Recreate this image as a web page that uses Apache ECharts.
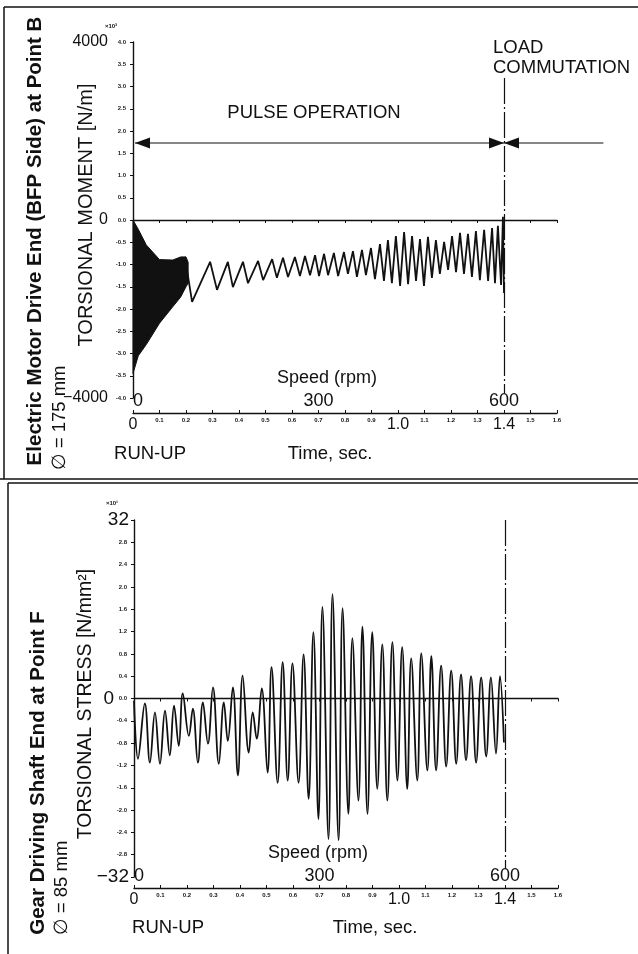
<!DOCTYPE html>
<html>
<head>
<meta charset="utf-8">
<title>Torsional moment and stress during run-up</title>
<script src="https://cdn.jsdelivr.net/npm/echarts@6/dist/echarts.min.js"></script>
<style>
  html, body { margin: 0; padding: 0; background: #fff; }
  #chart { width: 638px; height: 954px; }
</style>
</head>
<body>
<div id="chart"></div>
<script>
// time axis in seconds, speed in rpm (600 rpm reached at 1.4 s)
var timeMax = 1.6;
var commutationTime = 1.4;
var speedMarks = [0, 300, 600];
var bigTimeMarks = [0, 10, 14];            // tenths of a second shown with large figures

// upper panel: torsional moment, x10^3 N.m
var momentTicksBig = [-4, 0, 4];
var bandTime  = [0, 0.02, 0.05, 0.1, 0.15, 0.18, 0.2, 0.208];
var bandUpper = [0, -0.21, -0.56, -0.89, -0.9, -0.83, -0.83, -0.95];
var bandLower = [-3.45, -3.05, -2.8, -2.32, -1.95, -1.73, -1.5, -1.42];

var momentTime = [0.196, 0.223, 0.291, 0.317, 0.358, 0.377, 0.415, 0.434, 0.472, 0.491,
  0.525, 0.543, 0.566, 0.585, 0.611, 0.630, 0.649, 0.668, 0.687, 0.702,
  0.721, 0.736, 0.758, 0.774, 0.796, 0.811, 0.830, 0.845, 0.864, 0.879,
  0.898, 0.913, 0.932, 0.947, 0.962, 0.977, 0.992, 1.008, 1.023, 1.038,
  1.053, 1.068, 1.083, 1.098, 1.113, 1.128, 1.143, 1.158, 1.174, 1.189,
  1.204, 1.219, 1.234, 1.249, 1.264, 1.279, 1.294, 1.309, 1.325, 1.340,
  1.355, 1.366, 1.377, 1.389, 1.396, 1.400];
var momentValue = [-0.83, -1.84, -0.94, -1.57, -0.94, -1.51, -0.94, -1.42, -0.92, -1.35,
  -0.88, -1.30, -0.85, -1.28, -0.83, -1.26, -0.81, -1.24, -0.79, -1.26,
  -0.76, -1.24, -0.74, -1.26, -0.72, -1.21, -0.70, -1.28, -0.67, -1.24,
  -0.63, -1.33, -0.54, -1.37, -0.45, -1.42, -0.36, -1.48, -0.27, -1.44,
  -0.36, -1.37, -0.43, -1.48, -0.38, -1.30, -0.45, -1.21, -0.49, -1.12,
  -0.36, -1.17, -0.29, -1.21, -0.31, -1.28, -0.25, -1.35, -0.22, -1.37,
  -0.18, -1.42, -0.13, -1.46, 0.07, -1.64];
var pulseArrowLevel = 1.73;
var pulseArrowEnd = 1.775;

// lower panel: torsional stress, N/mm2
var stressTime = [0, 0.015, 0.041, 0.060, 0.079, 0.098, 0.117, 0.135, 0.151, 0.169,
  0.184, 0.207, 0.222, 0.241, 0.260, 0.279, 0.298, 0.320, 0.339, 0.354,
  0.373, 0.392, 0.410, 0.433, 0.448, 0.463, 0.482, 0.504, 0.519, 0.542,
  0.561, 0.580, 0.598, 0.621, 0.640, 0.659, 0.677, 0.696, 0.711, 0.734,
  0.749, 0.772, 0.787, 0.809, 0.824, 0.847, 0.862, 0.881, 0.899, 0.918,
  0.937, 0.956, 0.975, 0.994, 1.012, 1.031, 1.046, 1.069, 1.084, 1.107,
  1.122, 1.140, 1.159, 1.178, 1.197, 1.216, 1.234, 1.253, 1.272, 1.291,
  1.310, 1.329, 1.347, 1.366, 1.381, 1.396];
var stressValue = [-0.4, -10.8, -0.9, -11.5, -2.5, -11.7, -2.2, -10.2, -1.3, -8.5,
  0.9, -6.7, -1.8, -11.5, -0.7, -8.1, 2.0, -11.7, -0.7, -7.6,
  2.0, -13.8, 4.1, -9.7, -2.5, -7.2, 1.8, -13.3, 5.6, -15.1,
  6.5, -14.7, 6.3, -15.1, 7.9, -18.0, 11.9, -21.6, 16.4, -25.2,
  18.7, -25.4, 16.2, -20.7, 10.8, -18.3, 12.9, -20.7, 11.9, -16.2,
  9.7, -18.3, 10.1, -14.7, 9.2, -16.2, 7.2, -14.7, 8.1, -12.9,
  7.6, -12.9, 5.9, -12.2, 5.0, -11.7, 4.3, -11.1, 4.0, -11.5,
  3.8, -10.4, 3.8, -9.9, 4.0, -7.9];

var FONT = '"Liberation Sans", Arial, Helvetica, sans-serif';
var INK = '#111';

function zip(xs, ys) {
    return xs.map(function (x, i) { return [x, ys[i]]; });
}

function minus(v) {
    return (v < 0 ? '\u2212' : '') + Math.abs(v);
}

function timeLabel(v) {
    var k = Math.round(v * 10);
    if (k === 0) return '{b|0}';
    if (bigTimeMarks.indexOf(k) >= 0) return '{b|' + (k / 10).toFixed(1) + '}';
    return '{s|' + (k / 10).toFixed(1) + '}';
}

function xAxesFor(grid, offset) {
    return [
        { // zero line with its tick marks
            gridIndex: grid, type: 'value', min: 0, max: timeMax, interval: 0.1, position: 'bottom',
            axisLine: { onZero: true, lineStyle: { color: INK, width: 1.4 } },
            axisTick: { length: 3, lineStyle: { color: INK } },
            axisLabel: { show: false }, splitLine: { show: false }
        },
        { // time axis
            gridIndex: grid, type: 'value', min: 0, max: timeMax, interval: 0.1, position: 'bottom', offset: offset,
            axisLine: { onZero: false, lineStyle: { color: INK, width: 1.4 } },
            axisTick: { inside: true, length: 3, lineStyle: { color: INK } },
            splitLine: { show: false },
            axisLabel: {
                formatter: timeLabel, margin: 4,
                rich: {
                    b: { fontFamily: FONT, fontSize: 16, color: INK },
                    s: { fontFamily: FONT, fontSize: 6, fontWeight: 'bold', color: INK }
                }
            }
        },
        { // speed marks, linear with time
            gridIndex: grid, type: 'value', min: 0, max: 600 / commutationTime * timeMax, position: 'bottom', offset: offset,
            axisLine: { show: false, onZero: false }, axisTick: { show: false }, splitLine: { show: false },
            axisLabel: {
                inside: true, customValues: speedMarks, margin: 3, alignMinLabel: 'left',
                fontFamily: FONT, fontSize: 18, color: INK
            }
        }
    ];
}

function smallYAxis(grid, min, max, interval, fmt) {
    return {
        gridIndex: grid, type: 'value', min: min, max: max, interval: interval, position: 'left',
        axisLine: { show: true, onZero: false, lineStyle: { color: INK, width: 1.4 } },
        axisTick: { length: 3, lineStyle: { color: INK } },
        splitLine: { show: false },
        axisLabel: { formatter: fmt, margin: 7, fontFamily: FONT, fontSize: 6, fontWeight: 'bold', color: '#222' }
    };
}

function bigYAxis(grid, min, max, values, fmt, margin, size) {
    return {
        gridIndex: grid, type: 'value', min: min, max: max, position: 'left',
        axisLine: { show: false, onZero: false }, axisTick: { show: false }, splitLine: { show: false },
        axisLabel: { customValues: values, formatter: fmt, margin: margin, fontFamily: FONT, fontSize: size, color: INK }
    };
}

var chart = echarts.init(document.getElementById('chart'));

var option = {
    animation: false,
    backgroundColor: '#fff',
    grid: [
        { left: 133, top: 42, width: 424, height: 356 },
        { left: 134, top: 520, width: 424, height: 357 }
    ],
    xAxis: xAxesFor(0, 15).concat(xAxesFor(1, 11)),
    yAxis: [
        smallYAxis(0, -4, 4, 0.5, function (v) { return v.toFixed(1); }),
        bigYAxis(0, -4, 4, momentTicksBig, function (v) { return minus(v * 1000); }, 25, 16),
        smallYAxis(1, -32, 32, 4, function (v) { return Math.abs(v) === 32 ? '' : (v / 10).toFixed(1); }),
        bigYAxis(1, -32, 32, [-32, 32], minus, 5, 19),
        bigYAxis(1, -32, 32, [0], minus, 20, 19)
    ],
    series: [
        {
            type: 'custom', xAxisIndex: 0, yAxisIndex: 0, silent: true,
            data: [0],
            renderItem: function (params, api) {
                var pts = [];
                bandTime.forEach(function (t, i) { pts.push(api.coord([t, bandUpper[i]])); });
                for (var i = bandTime.length - 1; i >= 0; i--) pts.push(api.coord([bandTime[i], bandLower[i]]));
                return { type: 'polygon', shape: { points: pts }, style: { fill: INK, stroke: INK, lineWidth: 1 } };
            }
        },
        {
            type: 'line', xAxisIndex: 0, yAxisIndex: 0, silent: true,
            data: zip(momentTime, momentValue),
            showSymbol: false,
            lineStyle: { color: INK, width: 1.8 },
            markLine: {
                silent: true, symbol: 'none', label: { show: false },
                lineStyle: { color: INK, width: 1.2, type: [26, 3, 2, 3] },
                data: [[{ coord: [commutationTime, 3.19] }, { coord: [commutationTime, -3.9] }]]
            }
        },
        {
            type: 'line', xAxisIndex: 3, yAxisIndex: 2, silent: true,
            data: zip(stressTime, stressValue),
            showSymbol: false, smooth: 0.4,
            lineStyle: { color: INK, width: 1.8 },
            markLine: {
                silent: true, symbol: 'none', label: { show: false },
                lineStyle: { color: INK, width: 1.2, type: [26, 3, 2, 3] },
                data: [[{ coord: [commutationTime, 32] }, { coord: [commutationTime, -30.5] }]]
            }
        }
    ]
};
chart.setOption(option);

// annotations and panel frames
function text(x, y, str, opts) {
    opts = opts || {};
    return {
        type: 'text', x: x, y: y, rotation: opts.rot || 0, silent: true,
        style: {
            text: str, fill: INK, font: (opts.weight || 'normal') + ' ' + (opts.size || 18) + 'px ' + FONT,
            textAlign: opts.align || 'center', textVerticalAlign: 'middle'
        }
    };
}
function seg(x1, y1, x2, y2, w) {
    return { type: 'line', silent: true, shape: { x1: x1, y1: y1, x2: x2, y2: y2 }, style: { stroke: INK, lineWidth: w || 1.2 } };
}
function head(tipX, y, dir) {
    return {
        type: 'polygon', silent: true,
        shape: { points: [[tipX, y], [tipX + dir * 15, y - 5.5], [tipX + dir * 15, y + 5.5]] },
        style: { fill: INK }
    };
}

var pL = chart.convertToPixel({ gridIndex: 0 }, [0, pulseArrowLevel]);
var pM = chart.convertToPixel({ gridIndex: 0 }, [commutationTime, pulseArrowLevel]);
var pR = chart.convertToPixel({ gridIndex: 0 }, [pulseArrowEnd, pulseArrowLevel]);
var R = Math.PI / 2;

chart.setOption({
    graphic: [
        seg(4, 7, 638, 7, 1.5), seg(4, 7, 4, 479, 1.5), seg(0, 479, 638, 479, 1.5),
        seg(8, 483, 638, 483, 1.5), seg(8, 483, 8, 954, 1.5),

        seg(pL[0] + 2, pL[1], pR[0], pR[1], 1.1),
        head(pL[0] + 2, pL[1], 1), head(pM[0], pM[1], -1), head(pM[0], pM[1], 1),
        text(314, 113, 'PULSE OPERATION', { size: 18.5 }),
        text(493, 48, 'LOAD', { size: 18.5, align: 'left' }),
        text(493, 68, 'COMMUTATION', { size: 18.5, align: 'left' }),

        text(111, 26, '\u00d710\u00b3', { size: 6, weight: 'bold' }),
        text(35, 241, 'Electric Motor Drive End (BFP Side) at Point B', { rot: R, size: 20.5, weight: 'bold' }),
        text(60, 418, '\u2205 = 175 mm', { rot: R, size: 18.5 }),
        text(86, 215, 'TORSIONAL MOMENT [N/m]', { rot: R, size: 20 }),
        text(327, 378, 'Speed (rpm)', { size: 18 }),
        text(150, 454, 'RUN-UP', { size: 18.5 }),
        text(330, 454, 'Time, sec.', { size: 18.5 }),

        text(112, 503, '\u00d710\u00b9', { size: 6, weight: 'bold' }),
        text(38, 773, 'Gear Driving Shaft End at Point F', { rot: R, size: 20.5, weight: 'bold' }),
        text(62, 888, '\u2205 = 85 mm', { rot: R, size: 18.5 }),
        text(86, 704, 'TORSIONAL STRESS [N/mm\u00b2]', { rot: R, size: 19.5 }),
        text(318, 853, 'Speed (rpm)', { size: 18 }),
        text(168, 928, 'RUN-UP', { size: 18.5 }),
        text(375, 928, 'Time, sec.', { size: 18.5 })
    ]
});
</script>
</body>
</html>
